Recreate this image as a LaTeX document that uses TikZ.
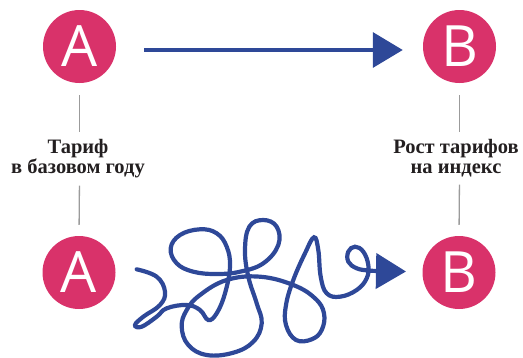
\documentclass[tikz,border=0pt]{standalone}
\usepackage{fontspec}
\setmainfont{Liberation Serif}
\newfontfamily\circfont{Open Sans}
\usetikzlibrary{arrows.meta}
\definecolor{pinkc}{RGB}{217,50,106}
\definecolor{bluec}{RGB}{46,72,152}
\definecolor{grayc}{RGB}{155,155,155}
\definecolor{textc}{RGB}{35,31,32}
\begin{document}
\begin{tikzpicture}[x=1pt,y=-1pt,
  circ/.style={circle,fill=pinkc,minimum size=73pt,inner sep=0pt,text=white,
    font=\circfont\fontsize{57}{57}\selectfont},
  lbl/.style={align=center,font=\bfseries\fontsize{20.5}{20.5}\selectfont,text=textc,inner sep=0pt,anchor=north},
  gline/.style={draw=grayc,line width=1.3pt},
  bline/.style={draw=bluec,line width=3.6pt,-{Triangle[length=30pt,width=35pt]}}]
\useasboundingbox (0,0) rectangle (523,357);
\node[circ] (a1) at (79.5,46.5) {A};
\node[circ] (b1) at (459.5,46.5) {B};
\node[circ] (a2) at (79,272.5) {A};
\node[circ] (b2) at (459,272.5) {B};
\node[lbl] (ta) at (78,139) {Тариф\\в базовом году};
\node[lbl] (tb) at (456,139) {Рост тарифов\\на индекс};
\draw[gline,shorten <=12pt,shorten >=7pt] (a1.south) -- (a1.south |- ta.north);
\draw[gline,shorten <=7pt,shorten >=11pt] (a1.south |- ta.south) -- (a2.north);
\draw[gline,shorten <=12pt,shorten >=7pt] (b1.south) -- (b1.south |- tb.north);
\draw[gline,shorten <=7pt,shorten >=11pt] (b1.south |- tb.south) -- (b2.north);
\draw[bline,shorten <=28pt,shorten >=20pt] ([yshift=-3.5pt]a1.east) -- ([yshift=-3.5pt]b1.west);
\draw[bline,line width=4.2pt,line cap=round] plot[smooth,tension=0.68] coordinates {
 (136.7,269.3) (156.7,276.7) (165,291.7) (160,305) (143.3,316.7) (135,325) (141.7,326.7)
 (156.7,316.7) (166.7,308.3) (186.7,305) (200,310) (208.3,320) (216.7,313.3) (225,293.3)
 (230,266.7) (226.7,246.7) (216.7,233.3) (200,229.3) (180,235) (170.7,248.3) (176.7,263.3)
 (193.3,271.7) (216.7,274) (240,271.7) (263.3,263.3) (278.3,245) (276.7,226.7) (263.3,220)
 (249.3,226.7) (245,250) (248.3,276.7) (256.7,303.3) (261.7,323.3) (253.3,341.7) (233.3,352.7)
 (206.7,355) (188.3,345) (181.7,326.7) (186.7,310) (200,295) (226.7,280) (260,276.7)
 (293.3,285) (315,298.3) (324,313.3) (321.7,330) (311.7,339.3) (296,340) (286,325) (286,305)
 (293.3,280) (305,253.3) (314,237.3) (318.3,250) (320.7,276.7) (326.7,293.3) (340,296.7)
 (356.7,290) (366.7,278.3) (368.3,265) (363.3,251.7) (355,246.7) (348.3,251.7) (348.3,261.7)
 (356.7,268.3) (368.3,270.5) (380,271) (406,271.5)};
\end{tikzpicture}
\end{document}
